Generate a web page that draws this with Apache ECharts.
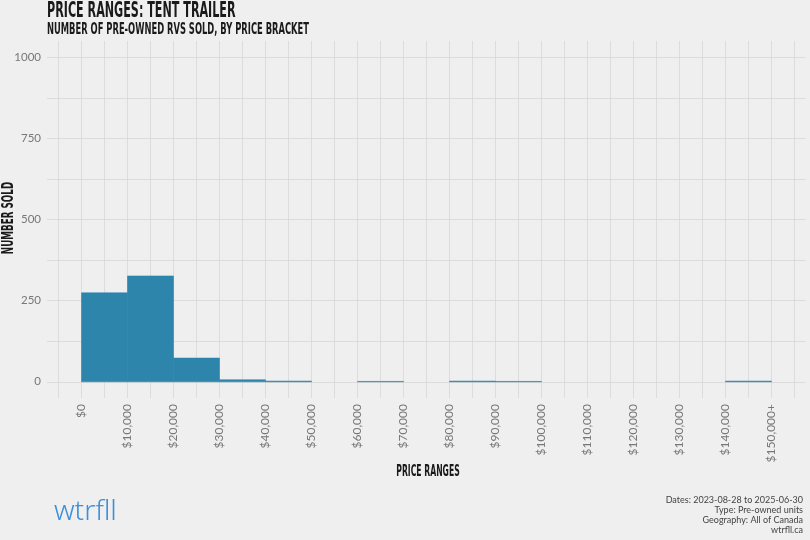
<!DOCTYPE html>
<html>
<head>
<meta charset="utf-8">
<script src="https://cdn.jsdelivr.net/npm/echarts@6/dist/echarts.min.js"></script>
<style>
html,body{margin:0;padding:0;background:#efefef;}
#chart{width:810px;height:540px;}
</style>
</head>
<body>
<div id="chart"></div>
<script>
// ---- data ----
const binStarts = [0, 10000, 20000, 30000, 40000, 50000, 60000, 70000, 80000, 90000, 100000, 110000, 120000, 130000, 140000];
const binEnds   = [10000, 20000, 30000, 40000, 50000, 60000, 70000, 80000, 90000, 100000, 110000, 120000, 130000, 140000, 150000];
const counts    = [274, 326, 73, 6, 2, 0, 1, 0, 2, 1, 0, 0, 0, 0, 2];
const xLabelValues = [0, 10000, 20000, 30000, 40000, 50000, 60000, 70000, 80000, 90000, 100000, 110000, 120000, 130000, 140000, 150000];
const xGridValues = [-5000, 0, 5000, 10000, 15000, 20000, 25000, 30000, 35000, 40000, 45000, 50000, 55000, 60000, 65000, 70000, 75000, 80000, 85000, 90000, 95000, 100000, 105000, 110000, 115000, 120000, 125000, 130000, 135000, 140000, 145000, 150000, 155000];
const yLabelValues = [0, 250, 500, 750, 1000];
const yGridValues = [0, 125, 250, 375, 500, 625, 750, 875, 1000];
const titleText = 'PRICE RANGES: TENT TRAILER';
const subtitleText = 'NUMBER OF PRE-OWNED RVS SOLD, BY PRICE BRACKET';
const yTitle = 'NUMBER SOLD';
const xTitle = 'PRICE RANGES';
const footerLines = ['Dates: 2023-08-28 to 2025-06-30', 'Type: Pre-owned units', 'Geography: All of Canada', 'wtrfll.ca'];

const barColor = '#2d85ab';
const gridColor = '#d7d7d7';
const headFont = '"DejaVu Sans Condensed","Liberation Sans Narrow",sans-serif';
const bodyFont = 'Lato, "Open Sans", sans-serif';

function fmtMoney(v) {
  const s = '$' + v.toLocaleString('en-US');
  return v === 150000 ? s + '+' : s;
}

const chart = echarts.init(document.getElementById('chart'));
const data = binStarts.map((s, i) => [s, binEnds[i], counts[i]]);

chart.setOption({
  backgroundColor: '#efefef',
  animation: false,
  grid: { left: 47, right: 4, top: 41, bottom: 142 },
  xAxis: {
    type: 'value', min: -7500, max: 157500,
    axisLine: { show: false },
    axisTick: { show: false, customValues: xGridValues },
    splitLine: { show: true, lineStyle: { color: gridColor, width: 0.8 } },
    axisLabel: {
      customValues: xLabelValues, rotate: 90, margin: 6,
      formatter: fmtMoney, color: '#777', fontSize: 12, fontFamily: bodyFont
    }
  },
  yAxis: {
    type: 'value', min: -50, max: 1050,
    axisLine: { show: false },
    axisTick: { show: false, customValues: yGridValues },
    splitLine: { show: true, lineStyle: { color: gridColor, width: 0.8 } },
    axisLabel: {
      customValues: yLabelValues, margin: 6,
      formatter: v => String(v),
      color: '#777', fontSize: 11.5, fontFamily: bodyFont
    }
  },
  series: [{
    type: 'custom',
    data: data,
    encode: { x: [0, 1], y: 2 },
    renderItem: function (params, api) {
      const x0 = api.value(0), x1 = api.value(1), y = api.value(2);
      if (!y) return null;
      const p0 = api.coord([x0, 0]);
      const p1 = api.coord([x1, y]);
      return {
        type: 'rect',
        shape: { x: p0[0], y: p1[1], width: p1[0] - p0[0], height: p0[1] - p1[1] },
        style: { fill: barColor, stroke: barColor, lineWidth: 0.6 }
      };
    }
  }],
  graphic: [
    { type: 'text', x: 47, y: 12, scaleX: 0.59, style: { text: titleText, font: 'bold 21px ' + headFont, fill: '#1a1a1a', verticalAlign: 'middle' } },
    { type: 'text', x: 47, y: 30, scaleX: 0.62, style: { text: subtitleText, font: 'bold 15px ' + headFont, fill: '#1a1a1a', verticalAlign: 'middle' } },
    { type: 'text', x: 9, y: 218, rotation: Math.PI / 2, scaleX: 0.65, style: { text: yTitle, font: 'bold 15px ' + headFont, fill: '#1a1a1a', align: 'center', verticalAlign: 'middle' } },
    { type: 'text', x: 428, y: 472, scaleX: 0.57, style: { text: xTitle, font: 'bold 15px ' + headFont, fill: '#1a1a1a', align: 'center', verticalAlign: 'middle' } },
    { type: 'text', x: 54, y: 512, style: { text: 'wtrfll', font: '300 28px "Noto Sans", sans-serif', fill: '#3b8fd9', verticalAlign: 'middle' } },
    { type: 'text', x: 803, y: 500, style: { text: footerLines[0], font: '9px ' + bodyFont, fill: '#444', align: 'right', verticalAlign: 'middle' } },
    { type: 'text', x: 803, y: 510, style: { text: footerLines[1], font: '9px ' + bodyFont, fill: '#444', align: 'right', verticalAlign: 'middle' } },
    { type: 'text', x: 803, y: 520, style: { text: footerLines[2], font: '9px ' + bodyFont, fill: '#444', align: 'right', verticalAlign: 'middle' } },
    { type: 'text', x: 803, y: 530, style: { text: footerLines[3], font: '9px ' + bodyFont, fill: '#444', align: 'right', verticalAlign: 'middle' } }
  ]
});
</script>
</body>
</html>
